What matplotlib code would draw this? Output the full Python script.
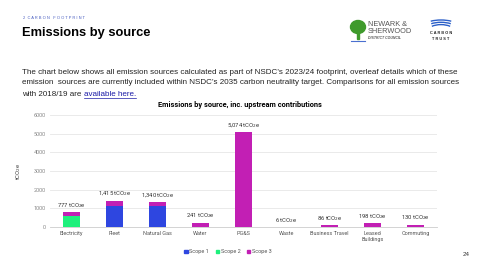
import matplotlib.pyplot as plt
from matplotlib.patches import Patch, Arc, Ellipse, Rectangle
import numpy as np

# data
sources = ['Electricity', 'Fleet', 'Natural Gas', 'Water', 'PG&S', 'Waste',
           'Business Travel', 'Leased\nBuildings', 'Commuting']
scope1 = [0, 1110, 1140, 0, 0, 0, 0, 0, 0]
scope2 = [580, 0, 0, 0, 0, 0, 0, 0, 0]
scope3 = [197, 305, 200, 241, 5074, 6, 86, 198, 130]
totals = [777, 1415, 1340, 241, 5074, 6, 86, 198, 130]
yticks = [0, 1000, 2000, 3000, 4000, 5000, 6000]

C1 = '#2e46e0'
C2 = '#1ef07c'
C3 = '#c21fb4'
TXT = '#555555'
ROBOTO = ['Roboto', 'DejaVu Sans']

plt.rcParams['font.family'] = ['Liberation Sans', 'DejaVu Sans']

fig = plt.figure(figsize=(4.8, 2.7), dpi=100)

# decoration layer in pixel coords
deco = fig.add_axes([0, 0, 1, 1])
deco.set_xlim(0, 480)
deco.set_ylim(270, 0)
deco.axis('off')

deco.text(23, 18, '2  C A R B O N   F O O T P R I N T', fontsize=2.9, color='#4a5fc1', va='center')
deco.text(22, 33, 'Emissions by source', fontsize=9.3, fontweight='bold', va='center')

lines = ["The chart below shows all emission sources calculated as part of NSDC\u2019s 2023/24 footprint, overleaf details which of these",
         "emission  sources are currently included within NSDC\u2019s 2035 carbon neutrality target. Comparisons for all emission sources"]
for i, ln in enumerate(lines):
    deco.text(22, 72 + 11 * i, ln, fontsize=5.75, va='center', color='#222222')
t = deco.text(22, 94, 'with 2018/19 are ', fontsize=5.75, va='center', color='#222222')
fig.canvas.draw()
bb = t.get_window_extent().transformed(deco.transData.inverted())
link = deco.text(bb.x1, 94, 'available here.', fontsize=5.75, va='center', color='#1a1aa6')
fig.canvas.draw()
lb = link.get_window_extent().transformed(deco.transData.inverted())
deco.plot([lb.x0, lb.x1], [97.5, 97.5], color='#1a1aa6', lw=0.5)

deco.text(240, 105, 'Emissions by source, inc. upstream contributions', fontsize=5.3,
          fontweight='bold', ha='center', va='center', family=ROBOTO)
deco.text(466, 254, '24', fontsize=4.5, ha='center', va='center', color='#333333')

# Newark & Sherwood logo (rough)
deco.add_patch(Ellipse((358, 27), 15, 13, color='#3f9a2c'))
deco.add_patch(Rectangle((356.7, 30), 2.6, 8.5, color='#3f9a2c'))
deco.plot([351, 365], [40.5, 40.5], color='#4a6fd0', lw=0.8)
deco.text(368, 24, 'NEWARK &', fontsize=5.3, va='center', color='#555555')
deco.text(368, 31.5, 'SHERWOOD', fontsize=5.3, va='center', color='#555555')
deco.text(368, 38, 'DISTRICT COUNCIL', fontsize=2.5, va='center', color='#555555',
          fontweight='bold', fontstyle='italic')

# Carbon Trust logo (rough)
for i, w in enumerate([34, 30, 26]):
    deco.add_patch(Arc((441, 26 + i * 2.3), w, 12, theta1=205, theta2=335, color='#2b5fc8', lw=1.0))
deco.text(441, 32.5, 'C A R B O N', fontsize=2.8, ha='center', va='center', fontweight='bold', color='#222222')
deco.text(441, 38.5, 'T R U S T', fontsize=2.8, ha='center', va='center', fontweight='bold', color='#222222')

# chart
ax = fig.add_axes([50 / 480, 1 - 227 / 270, 387 / 480, 112 / 270])
x = np.arange(len(sources))
w = 0.4
ax.bar(x, scope1, w, color=C1, zorder=3)
ax.bar(x, scope2, w, bottom=scope1, color=C2, zorder=3)
b12 = np.array(scope1) + np.array(scope2)
ax.bar(x, scope3, w, bottom=b12, color=C3, zorder=3)

for xi, tot in zip(x, totals):
    ax.text(xi, tot + 120, f'{tot:,} tCO$_2$e', ha='center', va='bottom', fontsize=4.2,
            color='#333333', family=ROBOTO)

ax.set_ylim(0, 6000)
ax.set_xlim(-0.5, len(sources) - 0.5)
ax.set_yticks(yticks)
ax.set_xticks(x)
ax.set_xticklabels(sources, fontsize=4, color=TXT, family=ROBOTO, linespacing=1.1)
ax.set_yticklabels([str(v) for v in yticks], fontsize=4, color='#888888', family=ROBOTO)
ax.tick_params(length=0, pad=3)
ax.grid(axis='y', color='#e6e6e6', lw=0.6, zorder=0)
for s in ['top', 'right', 'left']:
    ax.spines[s].set_visible(False)
ax.spines['bottom'].set_color('#cccccc')
ax.spines['bottom'].set_linewidth(0.6)
ax.set_ylabel('tCO$_2$e', fontsize=4.2, color='#444444', labelpad=8, family=ROBOTO)

handles = [Patch(color=C1, label='Scope 1'), Patch(color=C2, label='Scope 2'),
           Patch(color=C3, label='Scope 3')]
fig.legend(handles=handles, loc='center', bbox_to_anchor=(228 / 480, 1 - 252 / 270), ncol=3,
           frameon=False, handlelength=0.6, handleheight=0.6, handletextpad=0.3,
           columnspacing=1.2, labelcolor=TXT, prop={'family': ROBOTO, 'size': 4})

fig.savefig('out.png', dpi=100)
